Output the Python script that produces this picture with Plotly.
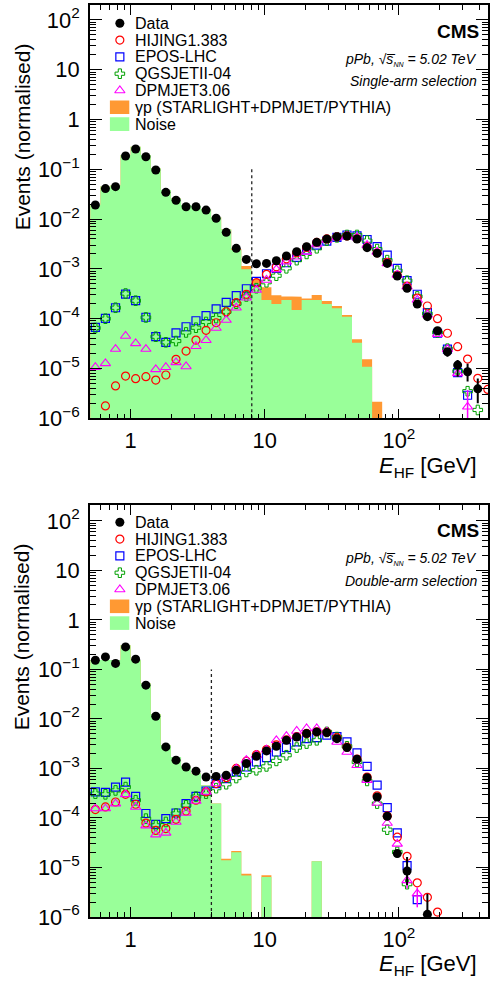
import numpy as np
import plotly.graph_objects as go

# ---------------- data ----------------
E_centres = [0.546, 0.649, 0.772, 0.917, 1.09, 1.30, 1.54, 1.83, 2.18, 2.59,
             3.07, 3.65, 4.34, 5.16, 6.13, 7.29, 8.66, 10.3, 12.2, 14.5,
             17.3, 20.5, 24.4, 29.0, 34.5, 41.0, 48.7, 57.9, 68.8, 81.8,
             97.2, 115, 137, 163, 194, 230, 274, 325, 387, 460]

N = None
# ---- single-arm selection (top) ----
top_data = [0.0192, 0.041, 0.0448, 0.185, 0.256, 0.179, 0.097, 0.0345, 0.0239, 0.0177,
            0.0177, 0.0152, 0.0104, 0.00543, 0.00259, 0.00155, 0.00127, 0.00129, 0.00146, 0.00182,
            0.00221, 0.00279, 0.00342, 0.00398, 0.00443, 0.00458, 0.00398, 0.00267, 0.00206, 0.00129,
            0.00072, 0.000407, 0.000197, 0.00011, 5.74e-5, 2.17e-5, 1.17e-5, 8.6e-6, 3.9e-6, N]
top_data_err_up = [0]*34 + [8e-6, 4e-6, 3.1e-6, 3.9e-6, 2.4e-6, 0]
top_data_err_dn = [0]*34 + [7e-6, 4.4e-6, 4.9e-6, 3.1e-6, 1.9e-6, 0]
top_hijing = [N, 1.77e-6, 4.46e-6, 7.06e-6, 6.24e-6, 6.85e-6, 5.87e-6, 7.4e-6, 1.53e-5, 2.24e-5,
              3.73e-5, 5.85e-5, 8.3e-5, 1.38e-4, 2.1e-4, 3.09e-4, 5.3e-4, 7.8e-4, 1.1e-3, 1.6e-3,
              2.1e-3, 2.7e-3, 3.4e-3, 4.0e-3, 4.4e-3, 4.6e-3, 4.1e-3, 2.8e-3, 2.1e-3, 1.35e-3,
              7.5e-4, 4.5e-4, 2.6e-4, 1.8e-4, 1.0e-4, 5.1e-5, 2.74e-5, 1.55e-5, 6.35e-6, 3.8e-6]
top_epos = [6.7e-5, 1.02e-4, 1.66e-4, 3.13e-4, 2.3e-4, 1.07e-4, 4.35e-5, 3.36e-5, 5.2e-5, 6.9e-5,
            9.1e-5, 1.15e-4, 1.57e-4, 2.13e-4, 2.9e-4, 4.0e-4, 5.6e-4, 8.0e-4, 1.03e-3, 1.33e-3,
            1.71e-3, 2.4e-3, 3.0e-3, 3.6e-3, 4.3e-3, 4.8e-3, 4.6e-3, 3.9e-3, 2.8e-3, 1.9e-3,
            1.03e-3, 5.8e-4, 3.1e-4, 1.33e-4, 5.1e-5, 2.45e-5, 8.3e-6, 2.9e-6, N, N]
top_qgsjet = [6.5e-5, 1.0e-4, 1.66e-4, 3.2e-4, 2.3e-4, 1.06e-4, 4.35e-5, 3.36e-5, 3.56e-5, 5.3e-5,
              6.6e-5, 8.6e-5, 1.03e-4, 1.38e-4, 2.0e-4, 2.8e-4, 4.1e-4, 5.4e-4, 7.3e-4, 1.03e-3,
              1.5e-3, 2.0e-3, 2.6e-3, 3.7e-3, 4.3e-3, 4.8e-3, 4.8e-3, 3.7e-3, 2.5e-3, 1.5e-3,
              9.2e-4, 5.8e-4, 2.8e-4, 1.26e-4, 5.3e-5, 2.5e-5, 8.8e-6, 3.5e-6, 1.47e-6, N]
top_dpmjet = [1.06e-5, 1.27e-5, 2.46e-5, 4.5e-5, 3.2e-5, 2.46e-5, 9.6e-6, 1.06e-5, 1.33e-5, 1.1e-5,
              2.8e-5, 3.7e-5, 6.5e-5, 9.4e-5, 1.66e-4, 2.64e-4, 3.77e-4, 6.0e-4, 9.8e-4, 1.4e-3,
              1.76e-3, 2.2e-3, 3.1e-3, 3.8e-3, 4.3e-3, 4.6e-3, 4.3e-3, 3.0e-3, 2.2e-3, 1.29e-3,
              7.6e-4, 4.4e-4, 2.38e-4, 1.2e-4, 4.9e-5, 2.45e-5, 8e-6, 1.7e-6, N, N]
top_dpmjet_err_up = [0]*37 + [2e-6, 0, 0]
top_dpmjet_err_dn = [0]*37 + [1.69e-6, 0, 0]
top_noise = [0.0192, 0.045, 0.048, 0.194, 0.284, 0.194, 0.105, 0.0384, 0.026, 0.0192,
             0.0183, 0.0157, 0.0109, 0.0062, 0.0024, 9.8e-4, 5.1e-4, 2.38e-4, 1.97e-4, 2.38e-4,
             1.5e-4, 2.38e-4, 2.38e-4, 1.97e-4, 1.62e-4, 1.1e-4, 3.3e-5, 1.09e-5, 0, 0,
             0, 0, 0, 0, 0, 0, 0, 0, 0, 0]
top_gp = [0, 0, 0, 0, 0, 0, 0, 0, 0, 0,
          0, 0, 0, 0, 1e-4, 1.6e-4, 1.2e-4, 1.9e-4, 1.0e-4, 4e-5,
          1.27e-4, 1.8e-5, 6.1e-5, 3e-5, 1.8e-5, 9e-6, 5.6e-6, 4.4e-6, 2.16e-6, 0,
          0, 0, 0, 0, 0, 0, 0, 0, 0, 0]

# ---- double-arm selection (bottom) ----
bot_data = [0.153, 0.179, 0.132, 0.285, 0.161, 0.048, 0.0113, 0.00272, 0.00147, 0.00107,
            8.8e-4, 6.7e-4, 6.9e-4, 7.3e-4, 9.2e-4, 1.26e-3, 1.76e-3, 2.26e-3, 2.8e-3, 3.7e-3,
            4.3e-3, 5.07e-3, 5.46e-3, 5.3e-3, 4.0e-3, 2.64e-3, 1.53e-3, 6.5e-4, 2.65e-4, 1.08e-4,
            1.91e-5, 8.5e-6, N, 1.13e-6, N, N, N, N, N, N]
bot_data_err_up = [0]*30 + [3e-6, 7.8e-6, 0, 1.8e-6, 0, 0, 0, 0, 0, 0]
bot_data_err_dn = [0]*30 + [3e-6, 4.1e-6, 0, 1.0e-6, 0, 0, 0, 0, 0, 0]
bot_hijing = [1.48e-4, 1.67e-4, 2.1e-4, 3.0e-4, 1.89e-4, 7.9e-5, 5.6e-5, 6.1e-5, 9.4e-5, 1.38e-4,
              2.28e-4, 3.35e-4, 4.95e-4, 6.5e-4, 1.0e-3, 1.4e-3, 1.9e-3, 2.4e-3, 3.0e-3, 3.8e-3,
              4.4e-3, 5.1e-3, 5.5e-3, 5.4e-3, 4.2e-3, 2.7e-3, 1.55e-3, 6.7e-4, 2.8e-4, 1.1e-4,
              4.1e-5, 1.68e-5, 4.9e-6, 2.5e-6, 1.26e-6, N, N, N, N, N]
bot_epos = [3.35e-4, 3.3e-4, 4.2e-4, 5.3e-4, 2.74e-4, 1.23e-4, 7.4e-5, 9.7e-5, 1.26e-4, 1.95e-4,
            2.74e-4, 3.5e-4, 4.95e-4, 6.25e-4, 8.5e-4, 1.07e-3, 1.35e-3, 1.66e-3, 2.15e-3, 2.64e-3,
            3.43e-3, 4.0e-3, 4.2e-3, 4.7e-3, 4.4e-3, 3.43e-3, 2.06e-3, 1.1e-3, 4.6e-4, 1.62e-4,
            5.0e-5, 1.09e-5, 2.25e-6, N, N, N, N, N, N, N]
bot_qgsjet = [3.1e-4, 3.0e-4, 3.6e-4, 4.2e-4, 2.28e-4, 9.7e-5, 7.1e-5, 8.3e-5, 1.23e-4, 1.8e-4,
              2.7e-4, 3.1e-4, 4.0e-4, 4.8e-4, 6.4e-4, 8.5e-4, 9.2e-4, 1.1e-3, 1.42e-3, 1.85e-3,
              2.64e-3, 3.18e-3, 3.7e-3, 5.46e-3, 4.3e-3, 2.8e-3, 1.35e-3, 5.6e-4, 1.95e-4, 5.8e-5,
              2.06e-5, 4.6e-6, N, N, N, N, N, N, N, N]
bot_dpmjet = [1.55e-4, 1.55e-4, 1.95e-4, 3.0e-4, 1.67e-4, 7.0e-5, 4.6e-5, 5.0e-5, 8.3e-5, 1.26e-4,
              2.2e-4, 3.35e-4, 4.95e-4, 6.7e-4, 9.95e-4, 1.47e-3, 1.85e-3, 2.4e-3, 3.7e-3, 4.47e-3,
              5.7e-3, 6.4e-3, 6.4e-3, 5.46e-3, 3.43e-3, 2.15e-3, 1.16e-3, 5.8e-4, 2.0e-4, 7.9e-5,
              3.0e-5, 5.5e-6, 2.97e-6, N, N, N, N, N, N, N]
bot_dpmjet_err_up = [0]*31 + [2e-6, 1e-6] + [0]*7
bot_dpmjet_err_dn = [0]*31 + [1.75e-6, 1.4e-6] + [0]*7
bot_noise = [0.155, 0.155, 0.155, 0.308, 0.155, 0.052, 0.0124, 2.94e-3, 1.7e-3, 1.1e-3,
             7.9e-4, 4.6e-4, 1.95e-4, 1.4e-5, 2.03e-5, 6.9e-6, 0, 6.4e-6, 0, 0,
             0, 0, 1.33e-5, 0, 0, 0, 0, 0, 0, 0,
             0, 0, 0, 0, 0, 0, 0, 0, 0, 0]
bot_gp = [0, 0, 0, 0, 0, 0, 0, 0, 0, 0,
          0, 0, 0, 1e-6, 1.2e-6, 6e-7, 0, 6e-7, 0, 0,
          0, 0, 0, 0, 0, 0, 0, 0, 0, 0,
          0, 0, 0, 0, 0, 0, 0, 0, 0, 0]

CUT_SINGLE = 8.0   # GeV
CUT_DOUBLE = 4.0   # GeV
CUT_LINE_TOP = 0.1

legend_labels = ["Data", "HIJING1.383", "EPOS-LHC", "QGSJETII-04", "DPMJET3.06",
                 "\u03b3p (STARLIGHT+DPMJET/PYTHIA)", "Noise"]

# ---------------- styling ----------------
FONT = "Liberation Sans, Arial, Helvetica, sans-serif"
C_NOISE = "#99ff99"
C_GP = "#ff9933"
styles = {
    "Data": dict(symbol="circle", size=9, color="black", line=dict(width=0, color="black")),
    "HIJING1.383": dict(symbol="circle-open", size=8, color="#ff0000", line=dict(width=1.2, color="#ff0000")),
    "EPOS-LHC": dict(symbol="square-open", size=8, color="#0000ff", line=dict(width=1.2, color="#0000ff")),
    "QGSJETII-04": dict(symbol="cross-open", size=8, color="#00a000", line=dict(width=1.0, color="#00a000")),
    "DPMJET3.06": dict(symbol="triangle-up-open", size=9, color="#ff00ff", line=dict(width=1.1, color="#ff00ff")),
}

W, H = 493, 983
PL, PR, PT, PB = 90, 490, 5, 917
TOP_Y0, TOP_Y1 = 5, 418.3
BOT_Y0, BOT_Y1 = 505, 917


def ypap(py):
    return (PB - py) / (PB - PT)


def xpap(px):
    return (px - PL) / (PR - PL)


logc = np.log10(np.array(E_centres, dtype=float))
mids = (logc[:-1] + logc[1:]) / 2
edges = 10 ** np.concatenate([[2 * logc[0] - mids[0]], mids, [2 * logc[-1] - mids[-1]]])
FLOOR = 1e-9


def step_poly(h):
    xs, ys = [edges[0]], [FLOOR]
    for k, v in enumerate(h):
        v = v if (v is not None and v > 0) else FLOOR
        xs += [edges[k], edges[k + 1]]
        ys += [v, v]
    xs.append(edges[-1])
    ys.append(FLOOR)
    return xs, ys


fig = go.Figure()


def add_panel(xa, ya, noise, gp, data, derr_up, derr_dn, hij, epos, qgs, dpm, dpm_up, dpm_dn, cut):
    total = [(n or 0) + (g or 0) for n, g in zip(noise, gp)]
    xs, ys = step_poly(total)
    fig.add_trace(go.Scatter(x=xs, y=ys, fill="toself", fillcolor=C_GP, mode="lines",
                             line=dict(width=0, color=C_GP), xaxis=xa, yaxis=ya,
                             showlegend=False, hoverinfo="skip"))
    xs, ys = step_poly(noise)
    fig.add_trace(go.Scatter(x=xs, y=ys, fill="toself", fillcolor=C_NOISE, mode="lines",
                             line=dict(width=0, color=C_NOISE), xaxis=xa, yaxis=ya,
                             showlegend=False, hoverinfo="skip"))
    fig.add_trace(go.Scatter(x=[cut, cut], y=[1e-6, CUT_LINE_TOP], mode="lines",
                             line=dict(color="#222222", width=1.3, dash="dot"),
                             xaxis=xa, yaxis=ya, showlegend=False, hoverinfo="skip"))
    for name, vals in [("EPOS-LHC", epos), ("QGSJETII-04", qgs), ("HIJING1.383", hij)]:
        fig.add_trace(go.Scatter(x=E_centres, y=vals, mode="markers", marker=styles[name],
                                 xaxis=xa, yaxis=ya, showlegend=False, name=name))
    fig.add_trace(go.Scatter(x=E_centres, y=dpm, mode="markers", marker=styles["DPMJET3.06"],
                             error_y=dict(type="data", array=dpm_up, arrayminus=dpm_dn, symmetric=False,
                                          thickness=1.5, width=0, color="#ff00ff"),
                             xaxis=xa, yaxis=ya, showlegend=False, name="DPMJET3.06"))
    fig.add_trace(go.Scatter(x=E_centres, y=data, mode="markers", marker=styles["Data"],
                             error_y=dict(type="data", array=derr_up, arrayminus=derr_dn, symmetric=False,
                                          thickness=2, width=0, color="black"),
                             xaxis=xa, yaxis=ya, showlegend=False, name="Data"))


add_panel("x", "y", top_noise, top_gp, top_data, top_data_err_up, top_data_err_dn,
          top_hijing, top_epos, top_qgsjet, top_dpmjet, top_dpmjet_err_up, top_dpmjet_err_dn, CUT_SINGLE)
add_panel("x2", "y2", bot_noise, bot_gp, bot_data, bot_data_err_up, bot_data_err_dn,
          bot_hijing, bot_epos, bot_qgsjet, bot_dpmjet, bot_dpmjet_err_up, bot_dpmjet_err_dn, CUT_DOUBLE)

# ---------------- legends / labels (pixel-coordinate overlay axes) ----------------
annotations = []
shapes = []


def add_legend(xa, ya, y_first, selection_text, cms_y, ppb_y, sel_y):
    step = 16.8
    marker_x = 120
    for i, lab in enumerate(legend_labels):
        yy = y_first + i * step
        if lab in styles:
            fig.add_trace(go.Scatter(x=[marker_x], y=[yy], mode="markers", marker=styles[lab],
                                     xaxis=xa, yaxis=ya, showlegend=False, hoverinfo="skip"))
        else:
            col = C_GP if i == 5 else C_NOISE
            shapes.append(dict(type="rect", xref=xa, yref=ya, x0=110, x1=129.5,
                               y0=yy - 6.8, y1=yy + 6.8, fillcolor=col, line=dict(width=0)))
        annotations.append(dict(xref=xa, yref=ya, x=133, y=yy, text=lab, showarrow=False,
                                xanchor="left", yanchor="middle",
                                font=dict(family=FONT, size=16, color="black")))
    annotations.append(dict(xref=xa, yref=ya, x=483, y=cms_y, text="<b>CMS</b>", showarrow=False,
                            xanchor="right", yanchor="middle", font=dict(family=FONT, size=19, color="black")))
    annotations.append(dict(xref=xa, yref=ya, x=481, y=ppb_y,
                            text="<i>pPb, \u221as\u0305<sub><span style='font-size:7px'>NN</span></sub> = 5.02 TeV</i>",
                            showarrow=False, xanchor="right", yanchor="middle",
                            font=dict(family=FONT, size=14, color="black")))
    annotations.append(dict(xref=xa, yref=ya, x=481, y=sel_y, text="<i>" + selection_text + "</i>",
                            showarrow=False, xanchor="right", yanchor="middle",
                            font=dict(family=FONT, size=14, color="black")))


add_legend("x3", "y3", 23.3, "Single-arm selection", 31, 59.5, 81)
add_legend("x4", "y4", 522.3, "Double-arm selection", 530, 558, 581)

for cy in [137, 637]:
    annotations.append(dict(xref="paper", yref="paper", x=xpap(22), y=ypap(cy),
                            text="Events (normalised)", textangle=-90, showarrow=False,
                            xanchor="center", yanchor="middle",
                            font=dict(family=FONT, size=21, color="black")))
for cy in [467, 965]:
    annotations.append(dict(xref="paper", yref="paper", x=xpap(481), y=ypap(cy),
                            text="<i>E</i><sub>HF</sub> [GeV]", showarrow=False,
                            xanchor="right", yanchor="middle",
                            font=dict(family=FONT, size=22, color="black")))

xr = [np.log10(0.498), 2.664]
common_x = dict(type="log", range=xr, showline=True, linecolor="black", linewidth=1.6,
                mirror="ticks", ticks="inside", ticklen=10, tickwidth=1.2, tickcolor="black",
                tickmode="linear", tick0=0, dtick=1, exponentformat="power",
                tickfont=dict(family=FONT, size=17.5, color="black"), showgrid=False, zeroline=False,
                minor=dict(ticks="inside", ticklen=5, dtick="D1", tickcolor="black", tickwidth=1,
                           showgrid=False),
                ticklabelstandoff=3)
common_y = dict(type="log", showline=True, linecolor="black", linewidth=1.6,
                mirror="ticks", ticks="inside", ticklen=12, tickwidth=1.2, tickcolor="black",
                tickmode="linear", tick0=0, dtick=1, exponentformat="power",
                tickfont=dict(family=FONT, size=17.5, color="black"), showgrid=False, zeroline=False,
                minor=dict(ticks="inside", ticklen=6, dtick="D1", tickcolor="black", tickwidth=1,
                           showgrid=False),
                ticklabelstandoff=5)

top_dom = [ypap(TOP_Y1), 1.0]
bot_dom = [0.0, ypap(BOT_Y0)]

fig.update_layout(
    width=W, height=H,
    margin=dict(l=PL, r=W - PR, t=PT, b=H - PB),
    paper_bgcolor="white", plot_bgcolor="white",
    showlegend=False,
    xaxis=dict(common_x, domain=[0, 1], anchor="y"),
    yaxis=dict(common_y, domain=top_dom, anchor="x", range=[-6, 2.3]),
    xaxis2=dict(common_x, domain=[0, 1], anchor="y2"),
    yaxis2=dict(common_y, domain=bot_dom, anchor="x2", range=[-6, 2.32]),
    xaxis3=dict(overlaying="x", range=[PL, PR], visible=False, anchor="y3"),
    yaxis3=dict(overlaying="y", range=[TOP_Y1, TOP_Y0], visible=False, anchor="x3"),
    xaxis4=dict(overlaying="x2", range=[PL, PR], visible=False, anchor="y4"),
    yaxis4=dict(overlaying="y2", range=[BOT_Y1, BOT_Y0], visible=False, anchor="x4"),
    annotations=annotations,
    shapes=shapes,
    font=dict(family=FONT, color="black"),
)

page_js = ("document.body.style.margin='0';document.body.style.padding='0';"
           "document.documentElement.style.overflow='hidden';")
fig.write_html("out.html", post_script=page_js, config={"displayModeBar": False})
